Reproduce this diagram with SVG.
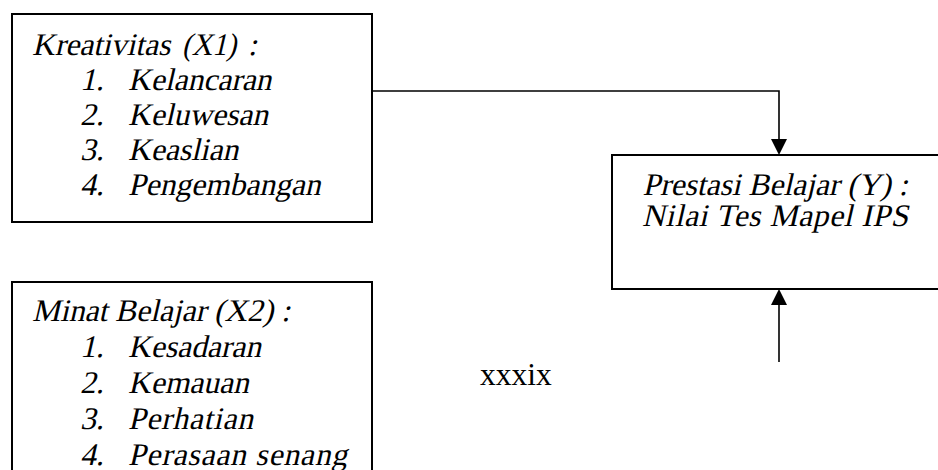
<svg xmlns="http://www.w3.org/2000/svg" width="938" height="470" viewBox="0 0 938 470">
<style>
.box{fill:#fff;stroke:#000;stroke-width:2}
.t,.r{font-family:"Liberation Serif","Times New Roman",serif;font-style:normal;font-size:31.5px;fill:#000}
.ln{fill:none;stroke:#000;stroke-width:1.6}
</style>
<rect width="938" height="470" fill="#fff"/>
<g id="connectors">
<polyline class="ln" points="372,91 779,91 779,141"/>
<polygon points="771,139 787,139 779,155" fill="#000"/>
<line class="ln" x1="779" y1="303" x2="779" y2="362"/>
<polygon points="771,305 787,305 779,289" fill="#000"/>
</g>
<g id="kreativitas">
<rect class="box" x="12" y="14" width="360" height="208"/>
<text class="t" transform="translate(32 55) skewX(-13)"><tspan x="0">Kreativitas</tspan><tspan x="150" textLength="54" lengthAdjust="spacingAndGlyphs">(X1)</tspan><tspan x="216">:</tspan></text>
<text class="t" transform="translate(80 90) skewX(-13)">1.</text><text class="t" transform="translate(128 90) skewX(-13)">Kelancaran</text>
<text class="t" transform="translate(80 125) skewX(-13)">2.</text><text class="t" transform="translate(128 125) skewX(-13)">Keluwesan</text>
<text class="t" transform="translate(80 160) skewX(-13)">3.</text><text class="t" transform="translate(128 160) skewX(-13)">Keaslian</text>
<text class="t" transform="translate(80 195) skewX(-13)">4.</text><text class="t" transform="translate(128 195) skewX(-13)">Pengembangan</text>
</g>
<g id="prestasi">
<rect class="box" x="612" y="155" width="340" height="134"/>
<text class="t" transform="translate(775 195) skewX(-13)" text-anchor="middle">Prestasi Belajar (Y) :</text>
<text class="t" transform="translate(775 226) skewX(-13)" text-anchor="middle" textLength="266" lengthAdjust="spacing">Nilai Tes Mapel IPS</text>
</g>
<g id="minat">
<rect class="box" x="12" y="282" width="360" height="200"/>
<text class="t" transform="translate(32 321) skewX(-13)">Minat Belajar (X2) :</text>
<text class="t" transform="translate(80 357) skewX(-13)">1.</text><text class="t" transform="translate(128 357) skewX(-13)">Kesadaran</text>
<text class="t" transform="translate(80 393) skewX(-13)">2.</text><text class="t" transform="translate(128 393) skewX(-13)">Kemauan</text>
<text class="t" transform="translate(80 429) skewX(-13)">3.</text><text class="t" transform="translate(128 429) skewX(-13)" textLength="125" lengthAdjust="spacing">Perhatian</text>
<text class="t" transform="translate(80 465) skewX(-13)">4.</text><text class="t" transform="translate(128 465) skewX(-13)" textLength="219" lengthAdjust="spacing">Perasaan senang</text>
</g>
<text class="r" x="480" y="385">xxxix</text>
</svg>
